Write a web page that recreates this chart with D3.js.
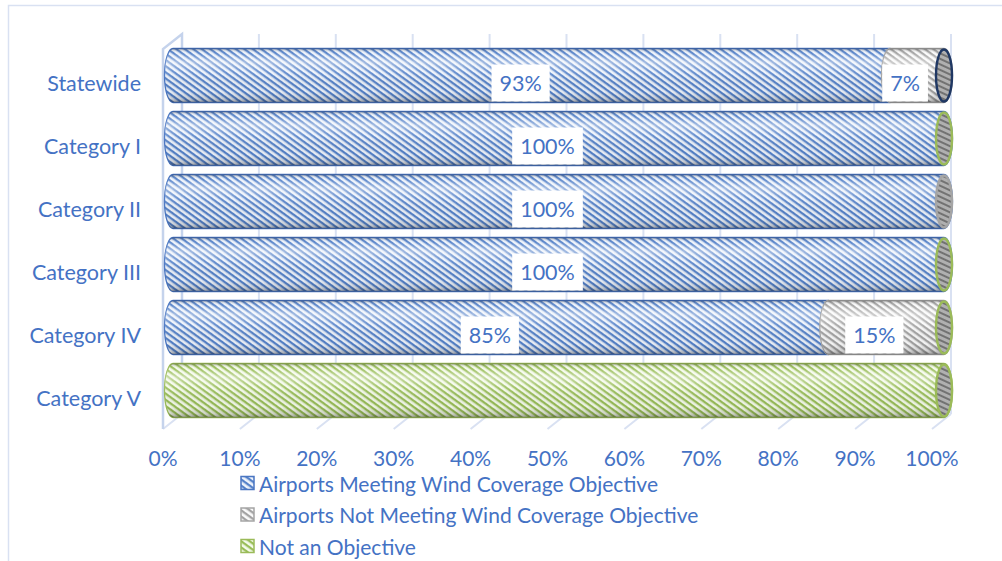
<!DOCTYPE html>
<html>
<head>
<meta charset="utf-8">
<script src="https://cdn.jsdelivr.net/npm/d3@7"></script>
<style>
  html, body { margin: 0; padding: 0; background: #ffffff; }
  svg { display: block; }
  text { font-family: Lato, "Open Sans", sans-serif; }
</style>
</head>
<body>
<svg id="chart" width="1002" height="561"></svg>
<script>
// Wind coverage objective by airport category (share of airports)
const categories = ["Statewide", "Category I", "Category II", "Category III", "Category IV", "Category V"];
const seriesNames = [
  "Airports Meeting Wind Coverage Objective",
  "Airports Not Meeting Wind Coverage Objective",
  "Not an Objective"
];
const meetingValues    = [0.93, 1.00, 1.00, 1.00, 0.85, 0.00];
const notMeetingValues = [0.07, 0.00, 0.00, 0.00, 0.15, 0.00];
const notObjectiveValues = [0.00, 0.00, 0.00, 0.00, 0.00, 1.00];
const tickValues = [0, 0.1, 0.2, 0.3, 0.4, 0.5, 0.6, 0.7, 0.8, 0.9, 1.0];

const svg = d3.select("#chart");
const blue = "#4472c4";
const fontSize = 21.5;

// series styling: stripe colour, background, outline
const styles = [
  { key: "blue",  stripe: "#5582c9", bg: "#eef3fb", stroke: "#4a76c2" },
  { key: "gray",  stripe: "#a3a3a3", bg: "#fafafa", stroke: "#a5a5a5" },
  { key: "green", stripe: "#98bd58", bg: "#f4faea", stroke: "#9bbb59" }
];

const defs = svg.append("defs");
styles.forEach(s => {
  const p = defs.append("pattern")
    .attr("id", "hatch-" + s.key)
    .attr("patternUnits", "userSpaceOnUse")
    .attr("width", 5).attr("height", 5)
    .attr("patternTransform", "rotate(36)");
  p.append("rect").attr("width", 5).attr("height", 5).attr("fill", s.bg);
  p.append("rect").attr("y", 0).attr("width", 5).attr("height", 2.3).attr("fill", s.stripe);
});
// end-cap hatch (greyish, darker stripes)
const cap = defs.append("pattern")
  .attr("id", "cap-hatch")
  .attr("patternUnits", "userSpaceOnUse")
  .attr("width", 5).attr("height", 5)
  .attr("patternTransform", "rotate(25)");
cap.append("rect").attr("width", 5).attr("height", 5).attr("fill", "#b0b0b0");
cap.append("rect").attr("width", 5).attr("height", 2).attr("fill", "#727272");

// cylinder shading overlay
const shade = defs.append("linearGradient")
  .attr("id", "cyl-shade").attr("x1", 0).attr("y1", 0).attr("x2", 0).attr("y2", 1);
[
  [0.00, "#000", 0.30],
  [0.08, "#fff", 0.05],
  [0.25, "#fff", 0.45],
  [0.45, "#fff", 0.12],
  [0.80, "#000", 0.03],
  [0.93, "#000", 0.16],
  [1.00, "#000", 0.38]
].forEach(([o, c, a]) => shade.append("stop").attr("offset", o).attr("stop-color", c).attr("stop-opacity", a));

// outer frame
svg.append("rect")
  .attr("x", 8.5).attr("y", 5.5).attr("width", 1010).attr("height", 570)
  .attr("fill", "none").attr("stroke", "#d9e1f2").attr("stroke-width", 1.5);

// scales: front plane of the 3-D plot, and depth offset to the back wall
const depthX = 19, depthY = -15;
const xFront = d3.scaleLinear().domain([0, 1]).range([163, 932]);
const yFront = d3.scaleBand().domain(categories).range([51.5, 429.5]).padding(0);
const xCyl = d3.scaleLinear().domain([0, 1]).range([173, 944]);
const floorY = 429;
const backTop = 34;

const grid = svg.append("g").attr("class", "grid");
// back wall gridlines
grid.selectAll("line.back").data(tickValues).join("line")
  .attr("class", "back")
  .attr("x1", d => xFront(d) + depthX).attr("x2", d => xFront(d) + depthX)
  .attr("y1", backTop).attr("y2", floorY + depthY)
  .attr("stroke", "#d9e1f2").attr("stroke-width", 2);
// floor lines
grid.selectAll("line.floor").data(tickValues).join("line")
  .attr("class", "floor")
  .attr("x1", d => xFront(d)).attr("x2", d => xFront(d) + depthX)
  .attr("y1", floorY).attr("y2", floorY + depthY)
  .attr("stroke", "#d9e1f2").attr("stroke-width", 2);
// left side wall
grid.append("path")
  .attr("d", `M${xFront(0)},${floorY} L${xFront(0)},${backTop - depthY} L${xFront(0) + depthX},${backTop} L${xFront(0) + depthX},${floorY + depthY}`)
  .attr("fill", "none").attr("stroke", "#c5d3ec").attr("stroke-width", 2.5);

// stacked segments
const stacks = categories.map((c, i) => ({
  category: c,
  values: [meetingValues[i], notMeetingValues[i], notObjectiveValues[i]]
}));

const rx = 8.5, ry = 27;
const bars = svg.append("g").attr("class", "bars");

function segPath(x0, x1, cy) {
  return `M${x1},${cy - ry} L${x0},${cy - ry} A${rx},${ry} 0 0 0 ${x0},${cy + ry} L${x1},${cy + ry} A${rx},${ry} 0 0 0 ${x1},${cy - ry} Z`;
}

stacks.forEach(s => {
  const cy = yFront(s.category) + yFront.bandwidth() / 2 + depthY / 2;
  const g = bars.append("g");
  let acc = 0;
  const segs = [];
  s.values.forEach((v, k) => {
    if (v > 0) segs.push({ k, start: acc, end: acc + v });
    acc += v;
  });
  segs.forEach(seg => {
    const st = styles[seg.k];
    const x0 = xCyl(seg.start), x1 = xCyl(seg.end);
    g.append("path").attr("d", segPath(x0, x1, cy))
      .attr("fill", `url(#hatch-${st.key})`)
      .attr("stroke", st.stroke).attr("stroke-width", 1.3);
    g.append("path").attr("d", segPath(x0, x1, cy))
      .attr("fill", "url(#cyl-shade)").attr("stroke", "none");
  });
  // end cap of the cylinder at 100%
  const capStroke = s.category === "Statewide" ? "#203864"
    : s.category === "Category II" ? "#a5a5a5" : "#9bbb59";
  g.append("ellipse")
    .attr("cx", xCyl(acc)).attr("cy", cy).attr("rx", rx - 0.5).attr("ry", ry - 1)
    .attr("fill", "url(#cap-hatch)")
    .attr("stroke", capStroke).attr("stroke-width", 2.4);
});

// value labels (white boxes)
const labels = svg.append("g").attr("class", "labels");
stacks.forEach(s => {
  let acc = 0;
  s.values.forEach((v, k) => {
    if (v > 0 && k < 2) {
      const cx = xFront(acc + v / 2);
      const cy = yFront(s.category) + yFront.bandwidth() / 2;
      const txt = Math.round(v * 100) + "%";
      const t = labels.append("text")
        .attr("x", cx).attr("y", cy)
        .attr("text-anchor", "middle").attr("dominant-baseline", "central")
        .attr("font-size", fontSize).attr("fill", blue).text(txt);
      const w = t.node().getComputedTextLength();
      labels.insert("rect", () => t.node())
        .attr("x", cx - w / 2 - 8).attr("y", cy - 18.5)
        .attr("width", w + 16).attr("height", 37)
        .attr("fill", "#ffffff");
    }
    acc += v;
  });
});

// category axis labels
svg.append("g").selectAll("text").data(categories).join("text")
  .attr("x", 141)
  .attr("y", d => yFront(d) + yFront.bandwidth() / 2)
  .attr("text-anchor", "end").attr("dominant-baseline", "central")
  .attr("font-size", fontSize).attr("fill", blue)
  .text(d => d);

// value axis tick labels
svg.append("g").selectAll("text").data(tickValues).join("text")
  .attr("x", d => xFront(d)).attr("y", 457.5)
  .attr("text-anchor", "middle").attr("dominant-baseline", "central")
  .attr("font-size", 21).attr("fill", blue)
  .text(d3.format(".0%"));

// legend
const legend = svg.append("g").attr("class", "legend");
seriesNames.forEach((name, k) => {
  const y = 483 + k * 31.5;
  const st = styles[k];
  legend.append("rect").attr("x", 241).attr("y", y - 6.5).attr("width", 13).attr("height", 13)
    .attr("fill", `url(#hatch-${st.key})`).attr("stroke", st.stroke).attr("stroke-width", 1.5);
  legend.append("text").attr("x", 259).attr("y", y)
    .attr("dominant-baseline", "central")
    .attr("font-size", 21).attr("fill", blue).text(name);
});
</script>
</body>
</html>
